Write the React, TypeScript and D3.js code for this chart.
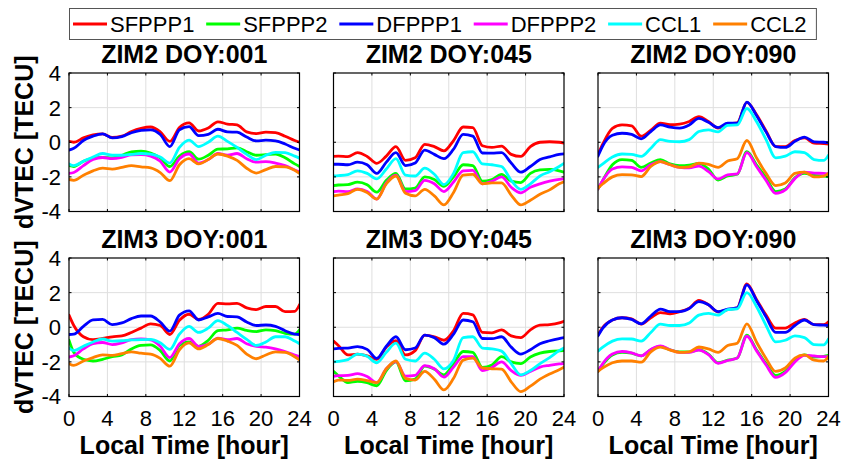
import React, { useMemo } from "react";
import * as d3 from "d3";

// ---------- data ----------
const hours = [0, 0.5, 1.5, 2.5, 3.5, 4.5, 5.5, 6.5, 7.5, 8.5, 9.5, 10.5, 11.5, 12.5, 13.5, 14.5, 15.5, 16.5, 17.5, 18.5, 19.5, 20.5, 21.5, 22.5, 23.5, 24];
const seriesNames = ["SFPPP1", "SFPPP2", "DFPPP1", "DFPPP2", "CCL1", "CCL2"];
const seriesColors = ["#ff0000", "#00ff00", "#0000ff", "#ff00ff", "#00ffff", "#ff8000"];
const panelTitles = ["ZIM2 DOY:001", "ZIM2 DOY:045", "ZIM2 DOY:090", "ZIM3 DOY:001", "ZIM3 DOY:045", "ZIM3 DOY:090"];
const xTicks = [0, 4, 8, 12, 16, 20, 24];
const yTicks = [-4, -2, 0, 2, 4];
const yLabel = "dVTEC [TECU]";
const xLabel = "Local Time [hour]";

// ZIM2 DOY:001
const zim2_001_SFPPP1 = [0.05, 0.0, 0.25, 0.42, 0.48, 0.28, 0.35, 0.62, 0.8, 0.88, 0.6, 0.05, 0.85, 1.12, 0.65, 0.82, 1.18, 1.05, 1.0, 0.6, 0.5, 0.58, 0.55, 0.35, 0.1, 0.0];
const zim2_001_SFPPP2 = [-1.35, -1.4, -1.1, -0.92, -0.87, -0.9, -0.75, -0.55, -0.52, -0.62, -0.9, -1.4, -0.8, -0.55, -0.98, -0.75, -0.4, -0.38, -0.32, -0.55, -0.75, -0.72, -0.68, -0.9, -1.25, -1.4];
const zim2_001_DFPPP1 = [-0.45, -0.35, 0.1, 0.35, 0.48, 0.25, 0.32, 0.55, 0.68, 0.72, 0.45, -0.25, 0.72, 0.9, 0.38, 0.45, 0.75, 0.6, 0.58, 0.3, 0.08, 0.12, 0.08, -0.1, -0.35, -0.45];
const zim2_001_DFPPP2 = [-1.8, -1.75, -1.35, -1.0, -0.88, -0.95, -0.88, -0.73, -0.72, -0.8, -1.1, -1.72, -0.95, -0.68, -1.2, -1.0, -0.65, -0.75, -0.65, -0.95, -1.15, -1.12, -1.2, -1.35, -1.6, -1.72];
const zim2_001_CCL1 = [-1.25, -1.35, -1.1, -0.85, -0.65, -0.75, -0.75, -0.7, -0.65, -0.68, -0.85, -1.2, -0.3, 0.12, -0.25, 0.0, 0.35, 0.05, -0.3, -0.7, -1.0, -0.75, -0.58, -0.6, -0.8, -0.92];
const zim2_001_CCL2 = [-2.15, -2.2, -1.9, -1.65, -1.5, -1.55, -1.45, -1.35, -1.42, -1.48, -1.75, -2.22, -1.3, -0.95, -1.25, -1.0, -0.68, -0.8, -1.05, -1.5, -1.78, -1.58, -1.4, -1.42, -1.62, -1.8];

// ZIM2 DOY:045
const zim2_045_SFPPP1 = [-0.82, -0.8, -0.83, -0.6, -0.82, -1.22, -0.8, -0.25, -1.05, -0.9, -0.12, -0.25, -0.5, 0.1, 0.88, 0.85, -0.2, -0.3, -0.22, -0.7, -0.82, -0.25, 0.0, 0.03, 0.0, -0.05];
const zim2_045_SFPPP2 = [-2.5, -2.47, -2.45, -2.3, -2.45, -2.88, -2.2, -1.8, -2.7, -2.65, -2.0, -2.15, -2.55, -2.0, -1.3, -1.35, -2.25, -2.15, -1.85, -2.25, -2.33, -1.8, -1.6, -1.57, -1.65, -1.73];
const zim2_045_DFPPP1 = [-1.27, -1.27, -1.3, -1.15, -1.3, -1.8, -1.15, -0.6, -1.35, -1.2, -0.45, -0.7, -0.95, -0.4, 0.45, 0.35, -0.62, -0.63, -0.6, -1.2, -1.73, -1.4, -1.0, -0.85, -0.7, -0.67];
const zim2_045_DFPPP2 = [-2.85, -2.82, -2.85, -2.7, -2.85, -3.28, -2.35, -1.9, -2.85, -2.8, -2.2, -2.4, -2.85, -2.3, -1.65, -1.62, -2.4, -2.25, -2.0, -2.6, -2.92, -2.6, -2.4, -2.25, -2.15, -2.12];
const zim2_045_CCL1 = [-1.95, -1.93, -1.87, -1.65, -1.8, -2.12, -1.55, -0.95, -1.9, -1.95, -1.5, -1.85, -2.45, -1.8, -0.6, -0.55, -1.25, -1.3, -1.4, -2.2, -2.72, -2.4, -1.95, -1.7, -1.4, -1.22];
const zim2_045_CCL2 = [-3.1, -3.05, -2.97, -2.72, -2.9, -3.28, -2.4, -1.95, -2.95, -3.1, -2.72, -3.1, -3.62, -2.9, -1.9, -1.85, -2.4, -2.35, -2.35, -3.05, -3.62, -3.35, -3.0, -2.75, -2.4, -2.28];

// ZIM2 DOY:090
const zim2_090_SFPPP1 = [-0.7, -0.1, 0.8, 1.0, 0.95, 0.35, 0.7, 1.1, 1.02, 1.05, 1.2, 1.48, 1.2, 0.82, 1.05, 1.12, 2.3, 1.6, 0.65, -0.25, -0.25, 0.1, 0.25, -0.05, -0.08, -0.1];
const zim2_090_SFPPP2 = [-2.7, -2.2, -1.3, -1.0, -1.05, -1.45, -1.2, -1.0, -1.25, -1.35, -1.32, -1.22, -1.55, -2.18, -1.95, -1.85, -0.55, -1.3, -2.05, -2.85, -2.7, -2.05, -1.8, -1.92, -1.96, -1.98];
const zim2_090_DFPPP1 = [-0.8, -0.2, 0.4, 0.52, 0.45, 0.2, 0.62, 1.0, 0.88, 0.82, 1.0, 1.38, 1.15, 0.85, 1.1, 1.1, 2.32, 1.55, 0.6, -0.25, -0.3, 0.05, 0.3, 0.02, 0.0, -0.02];
const zim2_090_DFPPP2 = [-2.7, -2.2, -1.55, -1.42, -1.45, -1.65, -1.3, -1.12, -1.3, -1.45, -1.48, -1.38, -1.7, -2.12, -1.88, -1.83, -0.6, -1.4, -2.2, -2.95, -2.75, -2.1, -1.72, -1.78, -1.8, -1.83];
const zim2_090_CCL1 = [-1.45, -1.25, -0.85, -0.68, -0.7, -0.82, -0.35, 0.15, 0.05, 0.03, 0.15, 0.62, 0.72, 0.6, 0.98, 1.0, 1.95, 1.2, 0.15, -0.9, -0.8, -0.55, -0.6, -1.0, -1.05, -0.75];
const zim2_090_CCL2 = [-2.65, -2.4, -2.0, -1.87, -1.88, -1.98, -1.4, -1.12, -1.3, -1.45, -1.42, -1.2, -1.28, -1.45, -1.08, -0.95, 0.1, -0.9, -1.8, -2.5, -2.35, -1.8, -1.72, -2.0, -1.95, -1.8];

// ZIM3 DOY:001
const zim3_001_SFPPP1 = [0.7, 0.1, -0.55, -0.72, -0.65, -0.55, -0.5, -0.3, -0.05, 0.2, 0.1, -0.42, 0.4, 0.75, 0.45, 0.75, 1.38, 1.35, 1.38, 1.12, 1.02, 1.2, 1.2, 0.9, 0.92, 1.3];
const zim3_001_SFPPP2 = [-0.75, -1.45, -1.85, -1.95, -1.85, -1.7, -1.6, -1.25, -1.05, -1.02, -1.35, -1.95, -1.05, -0.85, -1.1, -0.75, -0.2, -0.15, -0.05, -0.18, -0.25, -0.15, -0.2, -0.35, -0.4, -0.15];
const zim3_001_DFPPP1 = [-0.42, -0.4, 0.05, 0.42, 0.45, 0.15, 0.25, 0.5, 0.65, 0.65, 0.3, -0.22, 0.7, 0.95, 0.42, 0.6, 0.8, 0.62, 0.6, 0.3, 0.1, 0.13, 0.05, -0.2, -0.4, -0.42];
const zim3_001_DFPPP2 = [-1.72, -1.65, -1.25, -0.95, -0.88, -1.0, -0.9, -0.72, -0.68, -0.73, -1.1, -1.75, -0.95, -0.65, -1.1, -0.98, -0.63, -0.72, -0.65, -0.95, -1.1, -1.15, -1.25, -1.4, -1.6, -1.7];
const zim3_001_CCL1 = [-1.2, -1.35, -1.1, -0.85, -0.68, -0.8, -0.78, -0.73, -0.72, -0.7, -0.9, -1.28, -0.4, 0.05, -0.3, -0.05, 0.38, 0.1, -0.3, -0.7, -1.05, -0.85, -0.55, -0.55, -0.8, -0.95];
const zim3_001_CCL2 = [-2.1, -2.2, -1.95, -1.75, -1.6, -1.62, -1.52, -1.42, -1.5, -1.55, -1.8, -2.25, -1.3, -0.9, -1.25, -1.0, -0.65, -0.8, -1.05, -1.55, -1.82, -1.6, -1.42, -1.45, -1.7, -1.88];

// ZIM3 DOY:045
const zim3_045_SFPPP1 = [-0.8, -1.05, -1.6, -1.55, -1.65, -1.85, -1.15, -0.78, -1.6, -1.35, -0.45, -0.55, -0.75, -0.2, 0.8, 0.72, -0.3, -0.32, -0.15, -0.5, -0.6, -0.15, 0.12, 0.15, 0.25, 0.35];
const zim3_045_SFPPP2 = [-2.55, -2.8, -3.2, -3.12, -3.2, -3.38, -2.5, -2.0, -3.1, -3.0, -2.25, -2.42, -2.75, -2.1, -1.4, -1.45, -2.32, -2.18, -1.7, -2.0, -2.1, -1.72, -1.5, -1.4, -1.36, -1.35];
const zim3_045_DFPPP1 = [-1.25, -1.22, -1.2, -1.12, -1.28, -1.8, -1.1, -0.55, -1.3, -1.2, -0.45, -0.6, -0.98, -0.4, 0.42, 0.32, -0.65, -0.66, -0.55, -1.15, -1.55, -1.3, -0.95, -0.78, -0.65, -0.6];
const zim3_045_DFPPP2 = [-2.83, -2.8, -2.78, -2.68, -2.85, -3.2, -2.4, -1.98, -2.82, -2.78, -2.22, -2.4, -2.88, -2.3, -1.7, -1.7, -2.5, -2.32, -2.0, -2.5, -2.78, -2.55, -2.3, -2.2, -2.12, -2.1];
const zim3_045_CCL1 = [-2.0, -1.97, -1.87, -1.55, -1.68, -2.05, -1.45, -0.92, -1.85, -1.95, -1.5, -1.85, -2.4, -1.9, -0.6, -0.55, -1.2, -1.25, -1.38, -2.1, -2.75, -2.5, -2.1, -1.75, -1.35, -1.2];
const zim3_045_CCL2 = [-3.15, -3.05, -3.07, -3.0, -3.08, -3.2, -2.4, -1.95, -2.95, -3.05, -2.55, -3.0, -3.62, -2.95, -1.9, -1.78, -2.35, -2.4, -2.42, -3.15, -3.72, -3.4, -3.0, -2.7, -2.45, -2.3];

// ZIM3 DOY:090
const zim3_090_SFPPP1 = [-0.45, 0.0, 0.42, 0.55, 0.48, 0.18, 0.55, 0.85, 0.78, 0.9, 1.1, 1.55, 1.3, 0.88, 1.02, 1.12, 2.5, 1.6, 0.7, -0.05, -0.05, 0.25, 0.45, 0.15, 0.15, 0.32];
const zim3_090_SFPPP2 = [-2.55, -2.15, -1.6, -1.45, -1.5, -1.65, -1.3, -1.1, -1.3, -1.42, -1.42, -1.3, -1.55, -2.05, -1.9, -1.78, -0.45, -1.3, -2.1, -2.78, -2.55, -1.95, -1.6, -1.72, -1.68, -1.63];
const zim3_090_DFPPP1 = [-0.5, -0.05, 0.42, 0.55, 0.45, 0.2, 0.65, 1.05, 0.9, 0.9, 1.08, 1.48, 1.3, 0.9, 1.05, 1.12, 2.45, 1.55, 0.6, -0.3, -0.3, 0.1, 0.42, 0.15, 0.12, 0.1];
const zim3_090_DFPPP2 = [-2.55, -2.1, -1.55, -1.4, -1.48, -1.65, -1.28, -1.08, -1.3, -1.45, -1.45, -1.32, -1.58, -2.08, -1.92, -1.78, -0.52, -1.35, -2.18, -2.9, -2.62, -2.0, -1.62, -1.66, -1.7, -1.7];
const zim3_090_CCL1 = [-1.38, -1.15, -0.8, -0.67, -0.68, -0.8, -0.3, 0.18, 0.1, 0.1, 0.25, 0.7, 0.8, 0.7, 1.02, 1.06, 2.0, 1.2, 0.1, -0.85, -0.75, -0.5, -0.6, -1.0, -1.02, -0.68];
const zim3_090_CCL2 = [-2.55, -2.35, -2.05, -1.95, -1.95, -2.02, -1.42, -1.15, -1.32, -1.45, -1.42, -1.14, -1.25, -1.45, -1.05, -0.92, 0.2, -0.85, -1.8, -2.55, -2.35, -1.78, -1.6, -1.9, -1.95, -1.7];

const panelSeries = [
  [zim2_001_SFPPP1, zim2_001_SFPPP2, zim2_001_DFPPP1, zim2_001_DFPPP2, zim2_001_CCL1, zim2_001_CCL2],
  [zim2_045_SFPPP1, zim2_045_SFPPP2, zim2_045_DFPPP1, zim2_045_DFPPP2, zim2_045_CCL1, zim2_045_CCL2],
  [zim2_090_SFPPP1, zim2_090_SFPPP2, zim2_090_DFPPP1, zim2_090_DFPPP2, zim2_090_CCL1, zim2_090_CCL2],
  [zim3_001_SFPPP1, zim3_001_SFPPP2, zim3_001_DFPPP1, zim3_001_DFPPP2, zim3_001_CCL1, zim3_001_CCL2],
  [zim3_045_SFPPP1, zim3_045_SFPPP2, zim3_045_DFPPP1, zim3_045_DFPPP2, zim3_045_CCL1, zim3_045_CCL2],
  [zim3_090_SFPPP1, zim3_090_SFPPP2, zim3_090_DFPPP1, zim3_090_DFPPP2, zim3_090_CCL1, zim3_090_CCL2],
];

// ---------- layout ----------
const W = 854;
const H = 459;
const FONT = "'Liberation Sans', Arial, Helvetica, sans-serif";
const colX = [69, 333.5, 598];
const rowY = [73, 258];
const PW = 230.5;
const PH = 138.5;

function Panel({ idx }: { idx: number }) {
  const col = idx % 3;
  const row = Math.floor(idx / 3);
  const x0 = colX[col];
  const y0 = rowY[row];
  const x = d3.scaleLinear().domain([0, 24]).range([x0, x0 + PW]);
  const y = d3.scaleLinear().domain([-4, 4]).range([y0 + PH, y0]);
  const line = d3
    .line<[number, number]>()
    .x((d) => x(d[0]))
    .y((d) => y(d[1]))
    .curve(d3.curveMonotoneX);
  const tickLen = 2.5;
  return (
    <g>
      {xTicks.slice(1, -1).map((t) => (
        <line key={"gx" + t} x1={x(t)} x2={x(t)} y1={y0} y2={y0 + PH} stroke="#dfdfdf" strokeWidth={1} />
      ))}
      {yTicks.slice(1, -1).map((t) => (
        <line key={"gy" + t} x1={x0} x2={x0 + PW} y1={y(t)} y2={y(t)} stroke="#dfdfdf" strokeWidth={1} />
      ))}
      <clipPath id={"clip" + idx}>
        <rect x={x0} y={y0} width={PW} height={PH} />
      </clipPath>
      <g clipPath={`url(#clip${idx})`}>
        {panelSeries[idx].map((vals, si) => (
          <path
            key={si}
            d={line(hours.map((h, i) => [h, vals[i]]) as [number, number][]) || ""}
            fill="none"
            stroke={seriesColors[si]}
            strokeWidth={2.8}
            strokeLinejoin="round"
            strokeLinecap="round"
          />
        ))}
      </g>
      {xTicks.map((t) => (
        <g key={"tx" + t}>
          <line x1={x(t)} x2={x(t)} y1={y0 + PH} y2={y0 + PH - tickLen} stroke="#000" strokeWidth={1} />
          <line x1={x(t)} x2={x(t)} y1={y0} y2={y0 + tickLen} stroke="#000" strokeWidth={1} />
        </g>
      ))}
      {yTicks.map((t) => (
        <g key={"ty" + t}>
          <line x1={x0} x2={x0 + tickLen} y1={y(t)} y2={y(t)} stroke="#000" strokeWidth={1} />
          <line x1={x0 + PW} x2={x0 + PW - tickLen} y1={y(t)} y2={y(t)} stroke="#000" strokeWidth={1} />
        </g>
      ))}
      <rect x={x0} y={y0} width={PW} height={PH} fill="none" stroke="#000" strokeWidth={1.2} />
      <text x={x0 + PW / 2} y={y0 - 10.5} textAnchor="middle" fontFamily={FONT} fontWeight="bold" fontSize={25}>
        {panelTitles[idx]}
      </text>
      {col === 0 &&
        yTicks.map((t) => (
          <text key={"yl" + t} x={x0 - 8} y={y(t)} dy="0.36em" textAnchor="end" fontFamily={FONT} fontSize={22}>
            {t}
          </text>
        ))}
      {col === 0 && (
        <text
          transform={`translate(33,${y0 + PH / 2}) rotate(-90)`}
          textAnchor="middle"
          fontFamily={FONT}
          fontWeight="bold"
          fontSize={25}
        >
          {yLabel}
        </text>
      )}
      {row === 1 &&
        xTicks.map((t) => (
          <text key={"xl" + t} x={x(t)} y={y0 + PH + 29} textAnchor="middle" fontFamily={FONT} fontSize={22}>
            {t}
          </text>
        ))}
      {row === 1 && (
        <text x={x0 + PW / 2} y={454} textAnchor="middle" fontFamily={FONT} fontWeight="bold" fontSize={25}>
          {xLabel}
        </text>
      )}
    </g>
  );
}

function Legend() {
  const fontSize = 22;
  const widths = useMemo(() => {
    const c = document.createElement("canvas").getContext("2d");
    return seriesNames.map((n) => {
      if (!c) return n.length * fontSize * 0.62;
      c.font = `${fontSize}px 'Liberation Sans', Arial, sans-serif`;
      return c.measureText(n).width;
    });
  }, []);
  const lineLen = 34;
  const gapLT = 3;
  const gapItem = 11.8;
  let cx = 73;
  const items = seriesNames.map((n, i) => {
    const start = cx;
    cx += lineLen + gapLT + widths[i] + gapItem;
    return { n, start, color: seriesColors[i], w: widths[i] };
  });
  const boxRight = cx - gapItem + 10;
  return (
    <g>
      <rect x={69.5} y={8.5} width={boxRight - 69.5} height={31} fill="#fff" stroke="#555" strokeWidth={1} />
      {items.map((it) => (
        <g key={it.n}>
          <line x1={it.start} x2={it.start + lineLen} y1={24} y2={24} stroke={it.color} strokeWidth={2.8} />
          <text x={it.start + lineLen + gapLT} y={32} fontFamily={FONT} fontSize={fontSize}>
            {it.n}
          </text>
        </g>
      ))}
    </g>
  );
}

export default function App() {
  return (
    <svg width={W} height={H} style={{ display: "block", position: "absolute", left: 0, top: 0, background: "#fff" }}>
      <rect x={0} y={0} width={W} height={H} fill="#fff" />
      {panelTitles.map((_, i) => (
        <Panel key={i} idx={i} />
      ))}
      <Legend />
    </svg>
  );
}
